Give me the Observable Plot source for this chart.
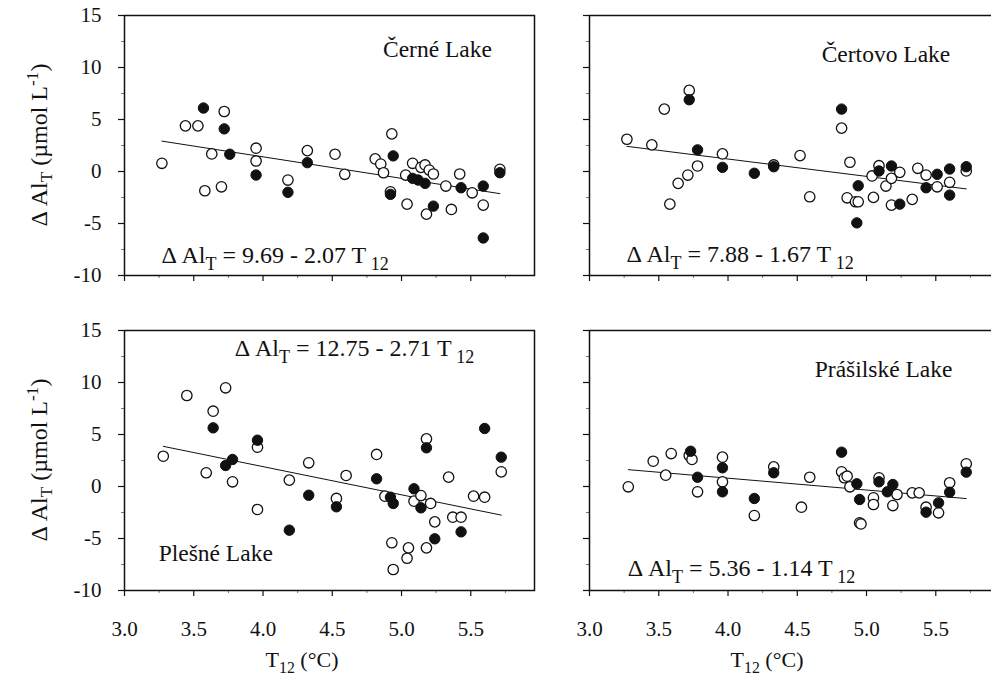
<!DOCTYPE html>
<html>
<head>
<meta charset="utf-8">
<script src="https://cdn.jsdelivr.net/npm/d3@7"></script>
<script src="https://cdn.jsdelivr.net/npm/@observablehq/plot@0.6"></script>
<style>
  html, body { margin: 0; padding: 0; background: #fff; }
  #wrap { position: relative; width: 991px; height: 677px; overflow: hidden; background: #fff;
          font-family: "Liberation Serif", "Times New Roman", serif; color: #111; }
  #wrap svg { position: absolute; overflow: visible; }
  .ytitle { position: absolute; font-size: 24px; white-space: nowrap; transform: translate(-50%, -50%) rotate(-90deg); }
  .xtitle { position: absolute; font-size: 22px; white-space: nowrap; transform: translate(-50%, -50%); }
  sub, sup { font-size: 0.72em; }
</style>
</head>
<body>
<div id="wrap"></div>
<script>
// ---- data (x = T12 °C, y = ΔAl_T µmol/L) ----
const cerneOpen = [[3.27,0.79],[3.44,4.39],[3.53,4.39],[3.72,5.77],[3.63,1.69],[3.58,-1.85],[3.70,-1.47],[3.95,2.24],[3.95,1.01],[4.18,-0.82],[4.32,2.01],[4.52,1.66],[4.59,-0.27],[4.81,1.21],[4.85,0.72],[4.87,-0.12],[4.93,3.62],[4.92,-1.95],[5.03,-0.34],[5.04,-3.14],[5.08,0.79],[5.14,0.40],[5.17,0.63],[5.20,0.14],[5.23,-0.24],[5.32,-1.40],[5.42,-0.24],[5.51,-2.05],[5.18,-4.1],[5.36,-3.65],[5.59,-3.23],[5.71,0.21]];
const cerneFilled = [[3.57,6.1],[3.72,4.1],[3.76,1.66],[3.95,-0.34],[4.18,-2.0],[4.32,0.85],[4.94,1.5],[4.92,-2.2],[5.08,-0.66],[5.12,-0.82],[5.17,-1.14],[5.23,-3.33],[5.43,-1.56],[5.59,-1.40],[5.59,-6.39],[5.71,-0.12]];
const certovoOpen = [[3.27,3.1],[3.45,2.56],[3.54,6.0],[3.72,7.8],[3.58,-3.14],[3.64,-1.14],[3.71,-0.34],[3.78,0.53],[3.96,1.69],[4.33,0.63],[4.52,1.53],[4.59,-2.43],[4.82,4.17],[4.88,0.89],[4.86,-2.53],[4.92,-2.91],[4.94,-2.91],[5.05,-2.49],[5.04,-0.43],[5.09,0.56],[5.14,-1.40],[5.18,-0.66],[5.24,-0.08],[5.18,-3.23],[5.33,-2.68],[5.37,0.31],[5.43,-0.34],[5.51,-1.47],[5.60,-1.04],[5.72,0.05]];
const certovoFilled = [[3.72,6.9],[3.78,2.08],[3.96,0.40],[4.19,-0.17],[4.33,0.46],[4.82,6.0],[4.94,-1.37],[4.93,-4.94],[5.09,0.05],[5.18,0.53],[5.24,-3.14],[5.43,-1.56],[5.51,-0.27],[5.60,0.24],[5.60,-2.27],[5.72,0.46]];
const plesneOpen = [[3.28,2.91],[3.45,8.75],[3.64,7.24],[3.73,9.49],[3.59,1.32],[3.78,0.45],[3.96,3.78],[3.96,-2.21],[4.19,0.61],[4.33,2.28],[4.53,-1.15],[4.60,1.06],[4.82,3.08],[4.88,-0.93],[4.93,-5.41],[4.94,-7.98],[5.05,-5.9],[5.04,-6.9],[5.09,-1.41],[5.14,-0.87],[5.21,-1.63],[5.18,4.58],[5.24,-3.4],[5.18,-5.9],[5.34,0.90],[5.37,-2.95],[5.43,-2.95],[5.52,-0.93],[5.60,-1.03],[5.72,1.41]];
const plesneFilled = [[3.64,5.64],[3.73,2.02],[3.78,2.6],[3.96,4.45],[4.19,-4.2],[4.33,-0.84],[4.53,-1.95],[4.82,0.74],[4.92,-1.03],[4.94,-1.63],[5.09,-0.22],[5.14,-2.05],[5.18,3.72],[5.24,-5.03],[5.43,-4.36],[5.60,5.58],[5.72,2.82]];
const prasilskeOpen = [[3.28,-0.03],[3.46,2.43],[3.59,3.17],[3.55,1.09],[3.72,2.98],[3.74,2.6],[3.78,-0.51],[3.96,2.82],[3.96,0.45],[4.19,-2.79],[4.33,1.89],[4.53,-1.99],[4.59,0.89],[4.82,1.41],[4.84,0.84],[4.86,0.99],[4.88,-0.03],[4.95,-3.49],[4.96,-3.6],[5.05,-1.09],[5.05,-1.73],[5.09,0.84],[5.19,-1.83],[5.22,-0.77],[5.33,-0.61],[5.38,-0.61],[5.43,-1.99],[5.52,-2.53],[5.60,0.36],[5.72,2.18]];
const prasilskeFilled = [[3.73,3.39],[3.78,0.89],[3.96,1.80],[3.96,-0.51],[4.19,-1.15],[4.33,1.32],[4.82,3.30],[4.93,0.26],[4.95,-1.25],[5.09,0.45],[5.15,-0.51],[5.19,0.19],[5.43,-2.47],[5.52,-1.57],[5.60,-0.55],[5.72,1.38]];

const lakeNames = ["Černé Lake", "Čertovo Lake", "Plešné Lake", "Prášilské Lake"];
const intercepts = [9.69, 7.88, 12.75, 5.36];
const slopes = [-2.07, -1.67, -2.71, -1.14];
const xTicks = [3.0, 3.5, 4.0, 4.5, 5.0, 5.5];
const xMinorTicks = [3.25, 3.75, 4.25, 4.75, 5.25, 5.75];
const yTicks = [-10, -5, 0, 5, 10, 15];
const yMinorTicks = [-7.5, -2.5, 2.5, 7.5, 12.5];
const xDomain = [3.0, 5.96];
const yDomain = [-10, 15];

// ---- layout ----
const FONT = "Liberation Serif, Times New Roman, serif";
const FW = 410, FH = 260;
const ML = 80, MR = 10, MT = 10, MB = 50;
const wrap = document.getElementById("wrap");

const panels = [
  {open: cerneOpen, filled: cerneFilled, k: 0, left: 124, top: 15, xLab: false, yLab: true,
   name: {x: 4.87, y: 10.96}, eq: {x: 3.27, y: -8.83}},
  {open: certovoOpen, filled: certovoFilled, k: 1, left: 589, top: 15, xLab: false, yLab: false,
   name: {x: 4.68, y: 10.47}, eq: {x: 3.27, y: -8.74}},
  {open: plesneOpen, filled: plesneFilled, k: 2, left: 124, top: 330, xLab: true, yLab: true,
   name: {x: 3.25, y: -7.2}, eq: {x: 3.80, y: 12.5}},
  {open: prasilskeOpen, filled: prasilskeFilled, k: 3, left: 589, top: 330, xLab: true, yLab: false,
   name: {x: 4.63, y: 10.5}, eq: {x: 3.28, y: -8.65}}
];

for (const p of panels) {
  const a = intercepts[p.k], b = slopes[p.k];
  const xs = p.open.concat(p.filled).map(d => d[0]);
  const x0 = d3.min(xs), x1 = d3.max(xs);
  const fit = [{x: x0, y: a + b * x0}, {x: x1, y: a + b * x1}];

  const plot = Plot.plot({
    width: FW + ML + MR, height: FH + MT + MB,
    marginLeft: ML, marginRight: MR, marginTop: MT, marginBottom: MB,
    x: {domain: xDomain},
    y: {domain: yDomain},
    style: {fontFamily: FONT, fontSize: "21px", color: "#111", background: "transparent", overflow: "visible"},
    marks: [
      Plot.axisX({ticks: xMinorTicks, tickSize: 3, tickFormat: () => "", stroke: "#777", label: null}),
      Plot.axisY({ticks: yMinorTicks, tickSize: 3, tickFormat: () => "", stroke: "#777", label: null}),
      Plot.axisX({ticks: xTicks, tickSize: 6, tickPadding: 25, strokeWidth: 1.2, fontFamily: FONT, fontSize: 21,
                  tickFormat: p.xLab ? (d => d.toFixed(1)) : (() => ""), label: null}),
      Plot.axisY({ticks: yTicks, tickSize: 6, tickPadding: 17, strokeWidth: 1.2, fontFamily: FONT, fontSize: 21,
                  tickFormat: p.yLab ? (d => String(d)) : (() => ""), label: null}),
      Plot.frame({stroke: "#111", strokeWidth: 1.5}),
      Plot.line(fit, {x: "x", y: "y", stroke: "#111", strokeWidth: 1}),
      Plot.dot(p.open, {x: d => d[0], y: d => d[1], r: 5.2, fill: "white", stroke: "#111", strokeWidth: 1.3}),
      Plot.dot(p.filled, {x: d => d[0], y: d => d[1], r: 5.2, fill: "#111", stroke: "#111", strokeWidth: 1})
    ]
  });
  plot.style.left = (p.left - ML) + "px";
  plot.style.top = (p.top - MT) + "px";
  wrap.appendChild(plot);

  const sx = plot.scale("x"), sy = plot.scale("y");
  const svg = d3.select(plot);
  // lake name
  svg.append("text")
    .attr("x", sx.apply(p.name.x)).attr("y", sy.apply(p.name.y))
    .attr("text-anchor", "start")
    .attr("font-family", FONT).attr("font-size", 23.5).attr("fill", "#111")
    .text(lakeNames[p.k]);
  // regression equation with subscripts
  const t = svg.append("text")
    .attr("x", sx.apply(p.eq.x)).attr("y", sy.apply(p.eq.y))
    .attr("text-anchor", "start")
    .attr("font-family", FONT).attr("font-size", 24).attr("fill", "#111");
  t.append("tspan").text("\u0394 Al");
  t.append("tspan").attr("dy", 7).attr("font-size", 18).text("T");
  t.append("tspan").attr("dy", -7).text(` = ${a.toFixed(2)} - ${(-b).toFixed(2)} T`);
  t.append("tspan").attr("dy", 7).attr("font-size", 18).text(" 12");
}

// axis titles
const yTitles = [145, 460];
for (const yc of yTitles) {
  const d = document.createElement("div");
  d.className = "ytitle";
  d.style.left = "40px"; d.style.top = yc + "px";
  d.innerHTML = "\u0394 Al<sub>T</sub> (\u00b5mol L<sup>-1</sup>)";
  wrap.appendChild(d);
}
const xTitles = [302, 767];
for (const xc of xTitles) {
  const d = document.createElement("div");
  d.className = "xtitle";
  d.style.left = xc + "px"; d.style.top = "662px";
  d.innerHTML = "T<sub>12</sub> (\u00b0C)";
  wrap.appendChild(d);
}
</script>
</body>
</html>
